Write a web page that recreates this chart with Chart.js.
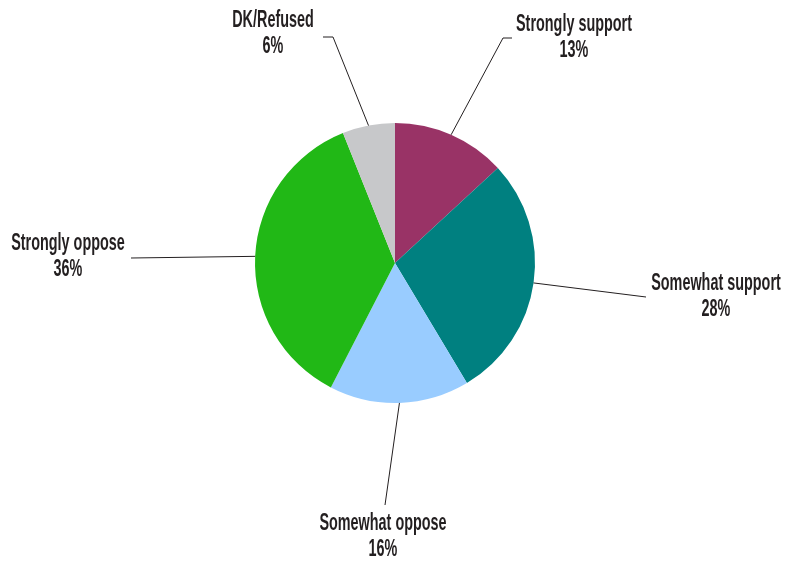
<!DOCTYPE html>
<html>
<head>
<meta charset="utf-8">
<script src="https://cdn.jsdelivr.net/npm/chart.js@4"></script>
<style>
  html, body { margin: 0; padding: 0; background: #fff; }
  #wrap { width: 788px; height: 561px; position: relative; }
</style>
</head>
<body>
<div id="wrap"><canvas id="chartPie"></canvas></div>
<script>
const categories = ['Strongly support', 'Somewhat support', 'Somewhat oppose', 'Strongly oppose', 'DK/Refused'];
const values = [13, 28, 16, 36, 6];
const colores = ['#993366', '#008080', '#99CCFF', '#21B816', '#C7C8CA'];

// label placement, offsets from pie centre (px): elbow (optional), line end, text centre
const labelPos = [
  { elbow: [108, -225], end: [117, -225], text: [179, -239] },
  { elbow: null, end: [251, 34], text: [321, 20] },
  { elbow: null, end: [-10, 242], text: [-12, 260] },
  { elbow: null, end: [-264, -5], text: [-327, -20] },
  { elbow: [-62, -226], end: [-72, -226], text: [-122, -243] }
];

const etiquetas = {
  id: 'etiquetas',
  afterDraw(chart) {
    const ctx = chart.ctx;
    const meta = chart.getDatasetMeta(0);
    ctx.save();
    meta.data.forEach((arc, i) => {
      const cx = arc.x, cy = arc.y;
      const mid = (arc.startAngle + arc.endAngle) / 2;
      const r = arc.outerRadius;
      const p = labelPos[i];
      // leader line
      ctx.beginPath();
      ctx.strokeStyle = '#231f20';
      ctx.lineWidth = 1;
      ctx.moveTo(cx + Math.cos(mid) * r, cy + Math.sin(mid) * r);
      if (p.elbow) ctx.lineTo(cx + p.elbow[0], cy + p.elbow[1]);
      ctx.lineTo(cx + p.end[0], cy + p.end[1]);
      ctx.stroke();
      // text (condensed look)
      const tx = cx + p.text[0], ty = cy + p.text[1];
      const lines = [categories[i], values[i] + '%'];
      ctx.fillStyle = '#231f20';
      ctx.font = 'bold 24px "Liberation Sans Narrow", "Arial Narrow", sans-serif';
      ctx.textAlign = 'center';
      ctx.textBaseline = 'middle';
      lines.forEach((t, k) => {
        ctx.save();
        ctx.translate(tx, ty + k * 26);
        ctx.scale(0.6, 1);
        ctx.fillText(t, 0, 0);
        ctx.restore();
      });
    });
    ctx.restore();
  }
};

const canvas = document.getElementById('chartPie');
new Chart(canvas.getContext('2d'), {
  type: 'pie',
  data: {
    labels: categories,
    datasets: [{
      data: values,
      backgroundColor: colores,
      borderWidth: 0
    }]
  },
  options: {
    responsive: true,
    maintainAspectRatio: false,
    animation: false,
    layout: { padding: { top: 123, bottom: 158, left: 255, right: 253 } },
    plugins: {
      legend: { display: false },
      tooltip: { enabled: false }
    }
  },
  plugins: [etiquetas]
});
</script>
</body>
</html>
